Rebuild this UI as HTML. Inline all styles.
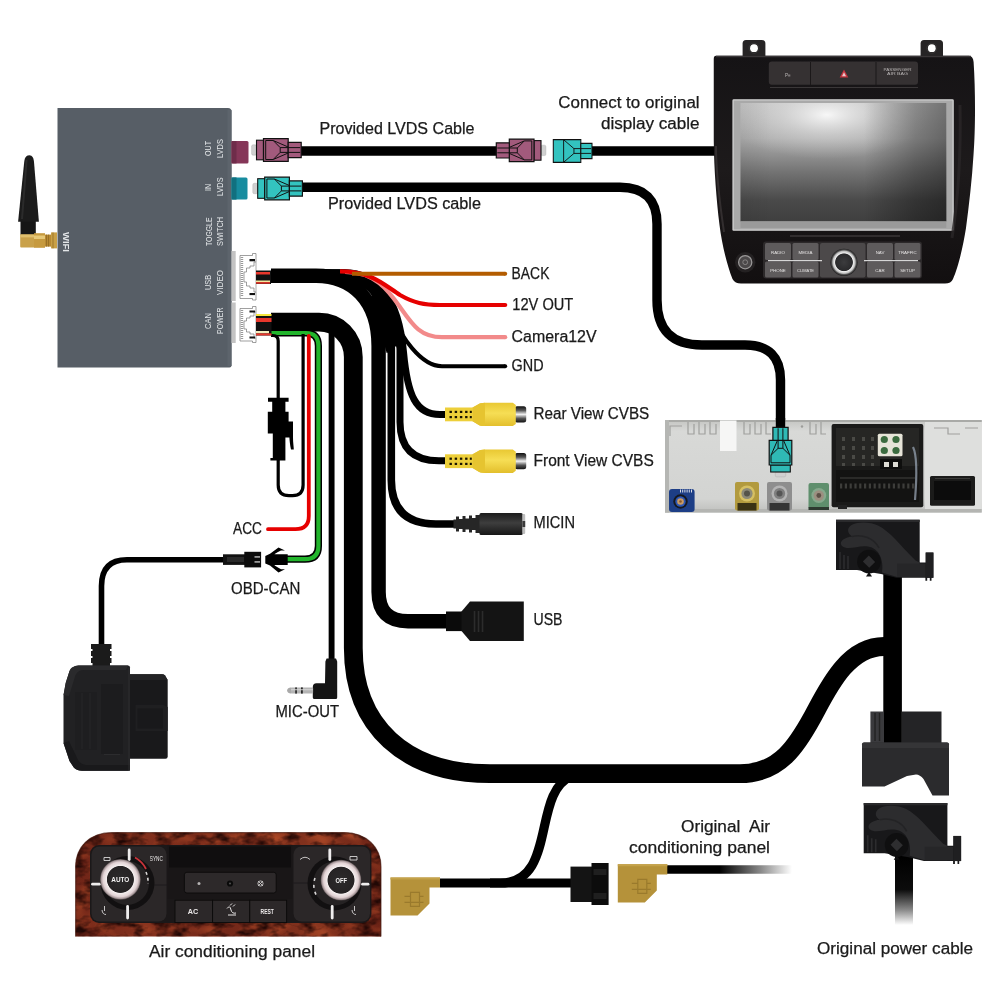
<!DOCTYPE html>
<html>
<head>
<meta charset="utf-8">
<title>Wiring diagram</title>
<style>
html,body{margin:0;padding:0;background:#fff;}
body{width:1000px;height:1000px;overflow:hidden;font-family:"Liberation Sans",sans-serif;}
svg{display:block;opacity:0.999;}
text{font-family:"Liberation Sans",sans-serif;}
.lbl{font-size:15.8px;fill:#1a1a1a;stroke:#1a1a1a;stroke-width:0.25px;}
.box{font-size:9px;fill:#e3e6e8;}
</style>
</head>
<body>
<svg width="1000" height="1000" viewBox="0 0 1000 1000">
<defs>
<linearGradient id="fadeR" gradientUnits="userSpaceOnUse" x1="667" y1="0" x2="792" y2="0"><stop offset="0" stop-color="#000"/><stop offset="0.42" stop-color="#000"/><stop offset="0.75" stop-color="#8a8a8a"/><stop offset="1" stop-color="#fff"/></linearGradient>
<linearGradient id="fadeD" gradientUnits="userSpaceOnUse" x1="0" y1="857" x2="0" y2="925"><stop offset="0" stop-color="#000"/><stop offset="0.48" stop-color="#0c0c0c"/><stop offset="0.78" stop-color="#8a8a8a"/><stop offset="1" stop-color="#fff"/></linearGradient>
</defs>
<rect width="1000" height="1000" fill="#fff"/>

<!-- ================= CABLES ================= -->
<g id="cables" fill="none" stroke="#000" stroke-linecap="butt" stroke-linejoin="round">
<!-- LVDS out cable -->
<path d="M301,151 H498" stroke-width="9.4"/>
<path d="M591,151 H716" stroke-width="9.4"/>
<!-- LVDS in cable -->
<path d="M301,187.3 H620 Q657,187.3 657,224 V300 Q657,345 702,345 H745 Q780.5,345 780.5,380 V430" stroke-width="9.4"/>

<!-- USB/VIDEO bundle -->
<path d="M271,275.8 H316 C352,275.8 378.6,300 378.6,346 V592 Q378.6,621.2 408,621.2 H447" stroke-width="14.4"/>
<path d="M300,273.5 H328 C368,273.5 391.3,300 391.3,348 V480 Q391.3,524 436,524 H456" stroke-width="7.6"/>
<path d="M300,272.8 H338 C378,272.8 400,302 400,350 V422 Q400,460.8 439,460.8 H447" stroke-width="7"/>
<path d="M300,272.8 H344 C382,272.8 399,304 403.5,352 C407.5,396 416,414.6 440,414.6 H447" stroke-width="7"/>
<!-- GND -->
<path d="M320,272 H348 C374,272 386,296 394,318 C400,334 420,366.2 442,366.2 H505.2" stroke-width="4"/>
<path d="M340,271 H352 C372,272 385,285 392,305 L399,336 L398.5,351 L396,346 L390,352 L386.6,353 L370,290 Z" fill="#000" stroke="none"/>
<!-- pink -->
<path d="M345,272 C375,272 388,290 400,307 C412,324 420,337.2 442,337.2 H505.2" stroke="#f28a8a" stroke-width="4.2"/>
<!-- red -->
<path d="M340,271.4 C372,271.4 384,285 400,295 C414,303 424,305 440,305 H505.2" stroke="#e60000" stroke-width="4.2"/>
<!-- brown -->
<path d="M352,273.7 H505.2" stroke="#b35c00" stroke-width="4"/>
<g stroke="none"><circle cx="505.2" cy="366.2" r="2" fill="#000"/><circle cx="505.2" cy="337.2" r="2.1" fill="#f28a8a"/><circle cx="505.2" cy="305" r="2.1" fill="#e60000"/><circle cx="505.2" cy="273.7" r="2" fill="#b35c00"/></g>

<!-- CAN/POWER harness -->
<path d="M271,322.1 H319 C338,322.1 353.3,337 353.3,357 V648 C353.3,726 405,773.7 490,773.7 H740 C780,773.7 797.5,744.3 812,718 C826.5,691.7 846,646.5 884,646.5 H893" stroke-width="18.8"/>
<!-- branch to AC -->
<path d="M572,776 C531,792 558,883 500,883 H490" stroke-width="9.2"/>
<path d="M440,883 H571" stroke-width="9"/>
<path d="M667,869.5 H792" stroke="url(#fadeR)" stroke-width="8.5"/>
<!-- power vertical -->
<path d="M892.6,570 V746" stroke-width="18.6"/>
<path d="M904,852 V925" stroke="url(#fadeD)" stroke-width="18"/>

<!-- MIC-OUT thin -->
<path d="M331.6,331 V662" stroke-width="5.9"/>
<!-- green (black outline) -->
<path d="M271,333 H306 Q318.4,333 318.4,346 V546 Q318.4,559.2 305,559.2 H287" stroke-width="7.2"/>
<path d="M271,333 H306 Q318.4,333 318.4,346 V546 Q318.4,559.2 305,559.2 H287" stroke="#22b52c" stroke-width="4.2"/>
<!-- red ACC -->
<path d="M308.8,336 V516 Q308.8,529.2 295.5,529.2 H268" stroke="#e60000" stroke-width="3.8" stroke-linecap="round"/>
<!-- fuse wire -->
<path d="M271,335.5 H273 Q278.2,335.5 278.2,341 V485 Q278.2,495.6 289,495.6 H292.5 Q303.1,495.6 303.1,485 V334" stroke-width="3.2"/>
<!-- OBD cable -->
<path d="M224,559.7 H127 Q101.5,559.7 101.5,586 V646" stroke-width="5.6"/>
</g>

<!-- ================= GRAY BOX ================= -->
<g id="box">
<path d="M57.5,108 H228 Q231.5,108 231.5,111.5 V365.6 Q231.5,367.6 229.5,367.6 H57.5 Z" fill="#575e66"/>
<rect x="227.5" y="110" width="4" height="256" fill="#5d646c"/>
<!-- antenna -->
<path d="M20.5,221 H35.8 V235 H20.5 Z" fill="#161616"/>
<path d="M29.2,155.2 C32.6,155.2 33.6,158.5 34,162 L38.9,221.8 H18.1 L24.2,162 C24.6,158.5 25.8,155.2 29.2,155.2 Z" fill="#1b1b1b"/>
<path d="M26.5,160 C26,170 23.5,200 22,219" stroke="#2b2b2b" stroke-width="2" fill="none"/>
<rect x="20.2" y="234.4" width="14.5" height="13.2" rx="1" fill="#c9a14a"/>
<rect x="20.2" y="234.4" width="14.5" height="3" fill="#e0bf6d"/>
<rect x="34" y="233.2" width="11" height="14.6" fill="#c69a3f"/>
<rect x="34" y="235.5" width="11" height="3.5" fill="#e6c878"/>
<rect x="45" y="234.6" width="6" height="12" fill="#b88a33"/>
<rect x="51" y="232.4" width="6" height="16" fill="#c9a046"/>
<path d="M46.5,234.6 V246.6 M48.5,234.6 V246.6 M53,232.4 V248.4" stroke="#8a6420" stroke-width="0.7"/>
<text class="box" transform="translate(63.3,232) rotate(90)" textLength="20" lengthAdjust="spacingAndGlyphs" style="font-size:9.4px;font-weight:bold">WIFI</text>
<g class="box">
<text transform="translate(211,156) rotate(-90)" textLength="15" lengthAdjust="spacingAndGlyphs">OUT</text>
<text transform="translate(223,158) rotate(-90)" textLength="19" lengthAdjust="spacingAndGlyphs">LVDS</text>
<text transform="translate(211,191) rotate(-90)" textLength="7" lengthAdjust="spacingAndGlyphs">IN</text>
<text transform="translate(223,196) rotate(-90)" textLength="18.5" lengthAdjust="spacingAndGlyphs">LVDS</text>
<text transform="translate(211.5,246) rotate(-90)" textLength="28.5" lengthAdjust="spacingAndGlyphs">TOGGLE</text>
<text transform="translate(223,246) rotate(-90)" textLength="29" lengthAdjust="spacingAndGlyphs">SWITCH</text>
<text transform="translate(211,290) rotate(-90)" textLength="15" lengthAdjust="spacingAndGlyphs">USB</text>
<text transform="translate(223,295) rotate(-90)" textLength="25" lengthAdjust="spacingAndGlyphs">VIDEO</text>
<text transform="translate(211,329) rotate(-90)" textLength="16" lengthAdjust="spacingAndGlyphs">CAN</text>
<text transform="translate(223,334) rotate(-90)" textLength="26.5" lengthAdjust="spacingAndGlyphs">POWER</text>
</g>
</g>

<!-- ================= TEXT LABELS ================= -->
<g class="lbl">
<text x="319.5" y="133.8" textLength="155" lengthAdjust="spacingAndGlyphs">Provided LVDS Cable</text>
<text x="328" y="208.8" textLength="153" lengthAdjust="spacingAndGlyphs">Provided LVDS cable</text>
<text x="558.3" y="107.8" textLength="141.3" lengthAdjust="spacingAndGlyphs">Connect to original</text>
<text x="600.9" y="128.5" textLength="98.7" lengthAdjust="spacingAndGlyphs">display cable</text>
<text x="511.6" y="278.8" textLength="37.8" lengthAdjust="spacingAndGlyphs">BACK</text>
<text x="512.3" y="309.9" textLength="61" lengthAdjust="spacingAndGlyphs">12V OUT</text>
<text x="511.6" y="342.3" textLength="85" lengthAdjust="spacingAndGlyphs">Camera12V</text>
<text x="511.6" y="371.1" textLength="32" lengthAdjust="spacingAndGlyphs">GND</text>
<text x="533.5" y="419.3" textLength="115.8" lengthAdjust="spacingAndGlyphs">Rear View CVBS</text>
<text x="533.5" y="465.7" textLength="120.3" lengthAdjust="spacingAndGlyphs">Front View CVBS</text>
<text x="533.5" y="527.8" textLength="41.5" lengthAdjust="spacingAndGlyphs">MICIN</text>
<text x="533.5" y="625.2" textLength="29" lengthAdjust="spacingAndGlyphs">USB</text>
<text x="233" y="533.6" textLength="29" lengthAdjust="spacingAndGlyphs">ACC</text>
<text x="231" y="593.6" textLength="69.3" lengthAdjust="spacingAndGlyphs">OBD-CAN</text>
<text x="275.5" y="717" textLength="63.5" lengthAdjust="spacingAndGlyphs">MIC-OUT</text>
<text x="681" y="832.4" textLength="89" lengthAdjust="spacingAndGlyphs" xml:space="preserve">Original  Air</text>
<text x="629" y="853.4" textLength="141" lengthAdjust="spacingAndGlyphs">conditioning panel</text>
<text x="817" y="953.6" textLength="156" lengthAdjust="spacingAndGlyphs">Original power cable</text>
<text x="149" y="957" textLength="166" lengthAdjust="spacingAndGlyphs">Air conditioning panel</text>
</g>


<!-- ================= LVDS connectors ================= -->
<defs>
<g id="lvdsplugNT">
  <path d="M0,-11.3 H32 V11.3 H0 Z" stroke="#111" stroke-width="1.2"/>
  <path d="M32,-7.6 H45 V7.6 H32 Z" stroke="#111" stroke-width="1.2"/>
  <path d="M12,-11.3 L24,-2.4 H44 M12,11.3 L24,2.4 H44 M12,-11.3 V11.3 M24,-2.4 V2.4" fill="none" stroke="#111" stroke-width="1"/>
</g>
<g id="lvdsplug">
  <!-- drawn pointing left, tip at x=0, centre y=0; total length ~50 -->
  <rect x="-4.6" y="-5.2" width="5" height="10.4" rx="1.5" fill="#d0d0d0" stroke="#aaa" stroke-width="0.4"/>
  <rect x="0.3" y="-9.8" width="7" height="19.6" stroke="#111" stroke-width="1.1"/>
  <path d="M7.3,-11.3 H32 V11.3 H7.3 Z" stroke="#111" stroke-width="1.2"/>
  <path d="M32,-7.6 H45 V7.6 H32 Z" stroke="#111" stroke-width="1.2"/>
  <path d="M9.5,-9.5 H17 L24,-2.4 H44 M9.5,9.5 H17 L24,2.4 H44 M9.5,-9.5 V9.5 M17,-9.5 L32,-3 M17,9.5 L32,3 M24,-2.4 V2.4" fill="none" stroke="#111" stroke-width="1"/>
</g>
</defs>
<!-- ports on box -->
<rect x="231.5" y="141" width="17" height="22.4" rx="1.5" fill="#853658"/>
<rect x="231.5" y="141" width="5" height="22.4" fill="#6f2c4a"/>
<rect x="231.5" y="177.4" width="16" height="22.2" rx="1.5" fill="#178c9f"/>
<rect x="231.5" y="177.4" width="5" height="22.2" fill="#11707f"/>
<use href="#lvdsplug" x="256.2" y="150" fill="#a25a7c"/>
<use href="#lvdsplug" x="257.4" y="188.5" fill="#33c3bf"/>
<!-- middle pair: purple pointing right (mirrored), teal pointing left -->
<use href="#lvdsplug" transform="translate(541.3,150.4) scale(-1,1)" fill="#a25a7c"/>
<g transform="translate(553.3,151) scale(0.86,1)"><use href="#lvdsplugNT" fill="#33c3bf"/></g>

<!-- ================= White JST connectors ================= -->
<rect x="231.5" y="251" width="4.2" height="50" fill="#c3c3c3"/>
<rect x="231.5" y="302.5" width="4.2" height="40.5" fill="#c3c3c3"/>
<g stroke="#777" stroke-width="0.7" fill="#fff">
<path d="M240,255.5 H252.5 V253.5 H256 V262 H254 V266 H250 V268 H246.5 V272 H244 V282 H246.5 V286 H250 V288 H254 V292 H256 V300 H252.5 V298.5 H240 Z"/>
<path d="M240,308.5 H252.5 V306.5 H256 V312 H254 V316 H250 V318 H246.5 V321 H244 V329 H246.5 V332 H250 V334 H254 V338 H256 V342.5 H252.5 V341 H240 Z"/>
</g>
<path d="M256,262 V292 M256,312 V338" stroke="#888" stroke-width="0.7" fill="none"/>
<g stroke="#333" stroke-width="2.4" stroke-dasharray="0.6 1.4" fill="none">
<path d="M242,257 V297"/><path d="M242,310 V340"/>
</g>
<g fill="#111">
<rect x="249.5" y="259" width="5.5" height="2.3"/><rect x="249.5" y="293" width="5.5" height="2.1"/>
<rect x="249.5" y="310.5" width="5.5" height="2"/><rect x="249.5" y="336.5" width="5.5" height="2"/>
</g>
<!-- wires out of JST 1 -->
<rect x="256" y="270.5" width="15" height="13.5" fill="#111"/>
<rect x="256" y="272" width="14" height="2.5" fill="#e8372c"/>
<rect x="256" y="280.5" width="14" height="1.6" fill="#f3e9a0"/>
<rect x="256" y="282.1" width="14" height="1.6" fill="#e8372c"/>
<!-- wires out of JST 2 -->
<rect x="256" y="314" width="15.5" height="21.5" fill="#111"/>
<rect x="256" y="314" width="15.5" height="2" fill="#f5e63c"/>
<rect x="256" y="318" width="15.5" height="4" fill="#e8372c"/>
<rect x="256" y="331" width="13" height="2.4" fill="#f3efc0"/>
<rect x="256" y="333.4" width="15.5" height="2" fill="#e8372c"/>

<!-- ================= Fuse holder ================= -->
<path d="M268,397.8 H288.6 V401.8 H285.4 V411.8 H288.6 V421.4 H293 V437.6 C293,443 293.8,447 293.8,449.6 H291 C290,445 289.6,441 289.4,437.6 H285.4 V460.6 H270.4 V458 H272.8 V433.4 H267.8 V411.8 H272.2 V401.8 H268 Z" fill="#000"/>

<!-- ================= RCA plugs ================= -->
<defs>
<linearGradient id="rcaY" x1="0" y1="0" x2="0" y2="1"><stop offset="0" stop-color="#e9c832"/><stop offset="0.45" stop-color="#f6de55"/><stop offset="1" stop-color="#e3bf2c"/></linearGradient>
<linearGradient id="rcaM" x1="0" y1="0" x2="0" y2="1"><stop offset="0" stop-color="#111"/><stop offset="0.25" stop-color="#555"/><stop offset="0.5" stop-color="#f2f2f2"/><stop offset="0.75" stop-color="#555"/><stop offset="1" stop-color="#111"/></linearGradient>
<g id="rca">
  <rect x="69.6" y="-8.1" width="11.6" height="16.2" rx="2.5" fill="url(#rcaM)"/>
  <rect x="0" y="-6.9" width="28" height="13.8" fill="#edcf3a"/>
  <g fill="#1a1400"><rect x="4.5" y="-3.6" width="2.4" height="2.2"/><rect x="9.7" y="-3.6" width="2.4" height="2.2"/><rect x="14.9" y="-3.6" width="2.4" height="2.2"/><rect x="20.1" y="-3.6" width="2.4" height="2.2"/><rect x="24.8" y="-3.6" width="2" height="2.2"/>
  <rect x="4.5" y="1.6" width="2.4" height="2.2"/><rect x="9.7" y="1.6" width="2.4" height="2.2"/><rect x="14.9" y="1.6" width="2.4" height="2.2"/><rect x="20.1" y="1.6" width="2.4" height="2.2"/><rect x="24.8" y="1.6" width="2" height="2.2"/></g>
  <path d="M27.6,-6.9 L33,-10 Q35,-11.7 40,-11.7 H67.8 L70.8,-9.5 V9.5 L67.8,11.7 H40 Q35,11.7 33,10 L27.6,6.9 Z" fill="url(#rcaY)"/>
  <path d="M27.6,-6.9 L33,-10 Q35,-11.7 40,-11.7 V11.7 Q35,11.7 33,10 L27.6,6.9 Z" fill="#e6c430"/>
</g>
</defs>
<use href="#rca" x="445" y="414.4"/>
<use href="#rca" x="445" y="461.2"/>

<!-- ================= MICIN jack ================= -->
<defs><linearGradient id="micG" x1="0" y1="0" x2="0" y2="1"><stop offset="0" stop-color="#1c1c1c"/><stop offset="0.45" stop-color="#3e3e3e"/><stop offset="1" stop-color="#171717"/></linearGradient></defs>
<path d="M453.5,519.5 H456 V516.5 H459 V519 H462.5 V516 H465.5 V518.5 H469 V515.5 H472 V518 H475.5 V515 H480 V533 H475.5 V530 H472 V532.5 H469 V529.5 H465.5 V532 H462.5 V529 H459 V531.5 H456 V528.5 H453.5 Z" fill="#262626"/>
<rect x="479.5" y="513" width="43.2" height="22" rx="1.5" fill="url(#micG)"/>
<rect x="522.4" y="514" width="2.8" height="20" rx="1" fill="#bdbdbd"/>
<rect x="522.4" y="521" width="2.8" height="6" fill="#3a3a3a"/>

<!-- ================= USB socket ================= -->
<rect x="446" y="611.5" width="17" height="19.6" fill="#0b0b0b"/>
<path d="M461.5,611.5 L470,601.4 H523.8 V641 H470 L461.5,631 Z" fill="#141414"/>
<path d="M474.5,611 V632 M478.5,611 V632 M482.5,611 V632" stroke="#2c2c2c" stroke-width="1.6" fill="none"/>

<!-- ================= OBD-CAN connectors ================= -->
<rect x="223" y="554.3" width="22" height="10.6" fill="#121212"/>
<rect x="227" y="557" width="17" height="5" fill="#2a2a2a"/>
<rect x="244.3" y="551.8" width="16.8" height="15.6" fill="#0d0d0d"/>
<rect x="254.5" y="556" width="5.5" height="1.8" fill="#999"/><rect x="254.5" y="561" width="5.5" height="1.8" fill="#999"/>
<path d="M265.3,556 L270,553.7 L278.5,547.6 L285,550.5 L281,550.5 Q274,554 274.5,554.3 H287.7 V565 H274.5 Q274,565.5 281,569.2 L285,569.2 L278.5,572.4 L270,565.6 L265.3,563.5 Z" fill="#000"/>

<!-- ================= MIC-OUT right-angle jack ================= -->
<path d="M326.6,658.5 H336 L337.2,661.500 V697.500 Q337.2,699 335.700,699 H314.500 Q312.8,699 312.8,697.500 V687 Q312.8,683.2 316.500,683.2 H325 L325.400,661.500 Z" fill="#151515"/>
<rect x="290.5" y="687.4" width="22.6" height="6.2" rx="1" fill="#b4b4b4"/>
<path d="M287,690.5 Q287.500,687.600 291,687.500 V693.500 Q287.500,693.400 287,690.500 Z" fill="#a9a9a9"/>
<rect x="295.2" y="687.4" width="1.7" height="6.2" fill="#2a2a2a"/><rect x="301" y="687.4" width="1.8" height="6.2" fill="#2a2a2a"/>
<rect x="291" y="689" width="22" height="1.3" fill="#d8d8d8" opacity="0.7"/>


<!-- ================= OBD plug ================= -->
<g>
<path d="M91,644 H111.5 V649 H110 V651 H111.5 V656 H110 V658 H111.5 V663 H110 V666 H92.5 V663 H91 V658 H92.5 V656 H91 V651 H92.5 V649 H91 Z" fill="#1b1b1b"/>
<path d="M130,674.3 H162 Q164,674.300 165,675.500 L167.7,680 V756.500 Q167.7,758.7 165.500,758.7 H130 Z" fill="#19191b"/>
<path d="M130,674.3 H162 Q164,674.300 165,675.500 L167.7,680 H130 Z" fill="#232325"/>
<path d="M135.5,704.7 H163 L167.7,707 V731 H135.500 Z" fill="#1f1f21"/>
<path d="M137.5,708.500 H163 V728.500 H137.500 Z" fill="#19191b"/>
<path d="M78.5,665.5 H128 Q130,665.500 130,667.500 V768.700 Q130,770.700 128,770.700 H82 Q77,770.700 74,767.700 L69.500,761 L63.500,743 V695 L65.700,683 L69.500,671 Q71.500,666 78.500,665.500 Z" fill="#212123"/>
<path d="M63.5,695 L65.700,683 L69.500,671 Q71.500,666 78.500,665.500 H128 L126,670 H84 Q78,670 75.500,675 L69,696 Z" fill="#2a2a2c"/>
<path d="M63.5,743 L69.500,761 L74,767.700 Q77,770.700 82,770.700 H130 V765 H86 Q80,764 78,760 L69,741 Z" fill="#19191b"/>
<rect x="101" y="684" width="22" height="70" fill="#1c1c1e"/>
<path d="M104,754.500 H120" stroke="#2c2c2e" stroke-width="1"/>
<rect x="75" y="692" width="22" height="58" fill="#1e1e20"/>
<path d="M82,693 V749 M90,693 V749" stroke="#262628" stroke-width="1.2" fill="none"/>
<path d="M129,668 V770" stroke="#2e2e31" stroke-width="1" fill="none"/>
</g>

<!-- ================= Display head unit ================= -->
<defs>
<linearGradient id="scr" x1="0" y1="0" x2="0" y2="1"><stop offset="0" stop-color="#c6c6c6"/><stop offset="0.3" stop-color="#adadad"/><stop offset="0.58" stop-color="#747474"/><stop offset="0.82" stop-color="#4a4a4a"/><stop offset="1" stop-color="#3f3f3f"/></linearGradient>
<linearGradient id="scrR" x1="0" y1="0" x2="1" y2="0"><stop offset="0" stop-color="#000" stop-opacity="0.06"/><stop offset="0.15" stop-color="#000" stop-opacity="0"/><stop offset="0.6" stop-color="#000" stop-opacity="0"/><stop offset="0.85" stop-color="#000" stop-opacity="0.3"/><stop offset="1" stop-color="#000" stop-opacity="0.42"/></linearGradient>
<radialGradient id="scrGlow" cx="0.42" cy="0.1" r="0.5" gradientTransform="translate(0.42,0.1) scale(1,0.75) translate(-0.42,-0.1)"><stop offset="0" stop-color="#fafafa" stop-opacity="0.95"/><stop offset="0.45" stop-color="#e0e0e0" stop-opacity="0.5"/><stop offset="1" stop-color="#c8c8c8" stop-opacity="0"/></radialGradient>
<linearGradient id="bodyG" x1="0" y1="0" x2="0" y2="1"><stop offset="0" stop-color="#151315"/><stop offset="0.5" stop-color="#1d1a1b"/><stop offset="1" stop-color="#120f10"/></linearGradient>
<radialGradient id="knobG" cx="0.5" cy="0.5" r="0.5"><stop offset="0" stop-color="#3c3c3e"/><stop offset="0.62" stop-color="#2a2a2c"/><stop offset="0.68" stop-color="#f0f0f0"/><stop offset="0.82" stop-color="#bdbdbd"/><stop offset="0.9" stop-color="#555"/><stop offset="1" stop-color="#1e1c1d"/></radialGradient>
</defs>
<g id="display">
<!-- mounting tabs -->
<path d="M742.6,56 V43.5 Q742.6,40 746,40 H762 Q765.4,40 765.4,43.500 V56 Z" fill="#262425"/>
<circle cx="754" cy="48.2" r="3.9" fill="#fff"/><circle cx="754" cy="48.2" r="5" fill="none" stroke="#3a3839" stroke-width="0.8"/>
<path d="M920.6,56 V43.500 Q920.6,40 924,40 H939.6 Q943,40 943,43.500 V56 Z" fill="#262425"/>
<circle cx="931.8" cy="48.2" r="3.9" fill="#fff"/><circle cx="931.8" cy="48.2" r="5" fill="none" stroke="#3a3839" stroke-width="0.8"/>
<!-- body -->
<path d="M716,55.8 H969 Q973,56 973.6,62 C975.5,90 975.5,130 973.5,155 C972,180 969,205 966,228 C963,247 958,268 953,279 Q951,283.5 945,283.500 H741 Q735,283.500 732.500,279 C727,265 722,245 719.500,225 C716.500,200 714,170 713.75,140 V59 Q713.75,55.8 716,55.8 Z" fill="url(#bodyG)"/>
<path d="M716,56.5 H971" stroke="#3a3638" stroke-width="1.5"/>
<!-- top button strip -->
<rect x="768.8" y="61.4" width="149.2" height="23.4" rx="3" fill="#353132"/>
<path d="M810.5,62 V85 M876,62 V85" stroke="#1b1819" stroke-width="1"/>
<path d="M844,69.5 L848.3,77.5 H839.7 Z" fill="#c6353f"/>
<path d="M844,72.2 L846,76.2 H842 Z" fill="#e9c9cc"/>
<text x="785" y="77" font-size="4.6" fill="#b9b5b5">P&#8801;</text>
<text x="883.5" y="70.5" font-size="3.6" fill="#b9b5b5" textLength="28" lengthAdjust="spacingAndGlyphs">PASSENGER</text>
<text x="887" y="74.6" font-size="3.6" fill="#b9b5b5" textLength="21" lengthAdjust="spacingAndGlyphs">AIR BAG</text>
<path d="M770,87.5 H918" stroke="#4a4647" stroke-width="1.2" opacity="0.7"/>
<!-- screen -->
<rect x="732.4" y="99.3" width="221.4" height="131.4" rx="1.5" fill="#a9a9a9"/>
<rect x="733.2" y="100" width="219.8" height="130" fill="none" stroke="#d4d4d4" stroke-width="0.9"/>
<rect x="740.5" y="103" width="205.8" height="118.4" fill="url(#scr)"/>
<rect x="740.5" y="103" width="205.8" height="118.4" fill="url(#scrGlow)"/>
<rect x="740.5" y="103" width="205.8" height="118.4" fill="url(#scrR)"/>
<rect x="740.5" y="221.4" width="205.8" height="6.5" fill="#9a9a9a"/>
<!-- reflections -->
<path d="M716,146 C716,175 720,205 724,232" stroke="#3a3536" stroke-width="2" fill="none" opacity="0.8"/>
<path d="M960,105 C961,150 958,200 952,238" stroke="#2b2728" stroke-width="3" fill="none" opacity="0.8"/>
<path d="M790,236 H900" stroke="#383435" stroke-width="2" opacity="0.8"/>
<!-- lower buttons -->
<rect x="763" y="241.5" width="159" height="37" rx="3" fill="#2c292a"/>
<g fill="#5e5b5c">
<rect x="765" y="243" width="26" height="17" rx="1.5"/><rect x="792.5" y="243" width="26" height="17" rx="1.5"/>
<rect x="765" y="261.5" width="26" height="16" rx="1.5"/><rect x="792.5" y="261.5" width="26" height="16" rx="1.5"/>
<rect x="867" y="243" width="26" height="17" rx="1.5"/><rect x="894.5" y="243" width="26" height="17" rx="1.5"/>
<rect x="867" y="261.5" width="26" height="16" rx="1.5"/><rect x="894.5" y="261.5" width="26" height="16" rx="1.5"/>
<rect x="820" y="243" width="45.5" height="34.5" rx="2" fill="#4c494a"/>
</g>
<path d="M768,260.6 H822 M864,260.6 H918" stroke="#d6d6d6" stroke-width="1.1"/>
<g font-size="4.4" fill="#e4e2e2" text-anchor="middle">
<text x="778" y="253.5">RADIO</text><text x="805.5" y="253.5">MEDIA</text><text x="778" y="271.5">PHONE</text><text x="805.5" y="271.5" textLength="17" lengthAdjust="spacingAndGlyphs">CLIMATE</text>
<text x="880" y="253.5">NAV</text><text x="907.5" y="253.5">TRAFFIC</text><text x="880" y="271.5">CAR</text><text x="907.5" y="271.5">SETUP</text>
</g>
<circle cx="844" cy="262.3" r="13.6" fill="url(#knobG)"/>
<circle cx="745.2" cy="262.2" r="10.2" fill="#242122"/>
<circle cx="745.2" cy="262.2" r="6.6" fill="#4b4849" stroke="#9a9898" stroke-width="1.3"/>
<circle cx="745.2" cy="262.2" r="2.4" fill="none" stroke="#9c9a9a" stroke-width="0.7"/>
</g>


<!-- ================= Radio module (rear) ================= -->
<defs>
<linearGradient id="modG" x1="0" y1="0" x2="0" y2="1"><stop offset="0" stop-color="#c4c5c2"/><stop offset="0.12" stop-color="#d8d9d7"/><stop offset="0.85" stop-color="#d3d4d2"/><stop offset="1" stop-color="#bfc0bd"/></linearGradient>
</defs>
<g id="module">
<rect x="665" y="420" width="316.7" height="92.5" fill="url(#modG)"/>
<rect x="665" y="420" width="316.7" height="2" fill="#a9aaa7"/>
<rect x="665" y="420" width="4" height="92.5" fill="#b5b6b3"/>
<rect x="925" y="422" width="56.7" height="90" fill="#dedfdd"/>
<rect x="665" y="509" width="316.7" height="3.5" fill="#b4b5b2"/>
<g fill="none" stroke="#9fa09d" stroke-width="1.2">
<path d="M688,422 V434 H694 V424 M699,422 V434 H705 V424 M710,422 V434 H716 V424"/>
<path d="M744,422 V434 H750 V424 M755,422 V434 H761 V424 M766,422 V434 H771"/>
<path d="M810,422 V434 H816 V424 M821,422 V434 H826"/>
<path d="M934,428 H948 V434 H960 M965,428 H978"/>
<path d="M670,436 V426 H682"/>
</g>
<rect x="720" y="420.5" width="16.5" height="30.5" fill="#f6f6f5"/>
<circle cx="802" cy="426.5" r="1.2" fill="#9c9d9a"/>
<!-- big black connector -->
<rect x="831.6" y="423.9" width="91.7" height="83.4" rx="2" fill="#1a1a19"/>
<rect x="836" y="428" width="83" height="38" fill="#262624"/>
<rect x="836" y="470" width="83" height="32" fill="#131312"/>
<g fill="#4a4a46">
<rect x="842" y="437" width="3" height="4"/><rect x="852" y="437" width="3" height="4"/><rect x="862" y="437" width="3" height="4"/><rect x="871" y="437" width="3" height="4"/>
<rect x="842" y="446" width="3" height="4"/><rect x="852" y="446" width="3" height="4"/><rect x="862" y="446" width="3" height="4"/><rect x="871" y="446" width="3" height="4"/>
<rect x="842" y="455" width="3" height="4"/><rect x="852" y="455" width="3" height="4"/><rect x="862" y="455" width="3" height="4"/><rect x="871" y="455" width="3" height="4"/>
<rect x="842" y="463" width="3" height="3"/><rect x="852" y="463" width="3" height="3"/><rect x="862" y="463" width="3" height="3"/><rect x="871" y="463" width="3" height="3"/>
</g>
<path d="M840,486 H915" stroke="#3d3d3a" stroke-width="5" stroke-dasharray="2.2 2.6"/>
<path d="M840,478 H915" stroke="#2a2a28" stroke-width="2"/>
<rect x="877.8" y="433.8" width="24.7" height="22.4" rx="1.5" fill="#e6e4d8"/>
<g fill="#3b6b3f"><circle cx="884.3" cy="439.5" r="3.6"/><circle cx="896" cy="439.5" r="3.6"/><circle cx="884.3" cy="450.5" r="3.6"/><circle cx="896" cy="450.5" r="3.6"/></g>
<rect x="880" y="459" width="22" height="10" fill="#0e0e0d"/>
<rect x="884" y="462" width="5" height="5" fill="#deddd5"/><rect x="893" y="462" width="5" height="5" fill="#deddd5"/>
<path d="M913,447 C917,455 917,475 915,500" stroke="#8f9aa8" stroke-width="2.2" fill="none" opacity="0.8"/>
<rect x="838" y="505" width="9" height="4" fill="#222"/>
<!-- right small connector -->
<rect x="930" y="476" width="45" height="29.7" rx="1.5" fill="#1b1b1a"/>
<rect x="934" y="481" width="37" height="19" fill="#0c0c0c"/>
<path d="M935,478.5 H970" stroke="#3a3a38" stroke-width="1"/>
<!-- fakra connectors -->
<rect x="669" y="489" width="25.6" height="23" rx="3" fill="#1d3e86"/>
<path d="M680,491 H693" stroke="#d9dde6" stroke-width="3" stroke-dasharray="1 1.2"/>
<circle cx="680.5" cy="501.5" r="7.2" fill="#15181f"/><circle cx="680.5" cy="501.5" r="5.2" fill="#2c56b4"/><circle cx="680.5" cy="501.5" r="3.3" fill="#c99a62"/><circle cx="680.5" cy="501.5" r="1.3" fill="#8a5a2a"/>
<rect x="735" y="482" width="24" height="28.6" rx="2" fill="#b29a3e"/>
<rect x="737.5" y="503" width="19" height="7.6" fill="#3a3214"/>
<circle cx="747" cy="493.5" r="8" fill="#d6c063"/><circle cx="747" cy="493.5" r="5.6" fill="#8c8a78"/><circle cx="747" cy="493.5" r="3" fill="#55544a"/>
<rect x="767" y="482" width="25" height="28.6" rx="2" fill="#8e8e8e"/>
<rect x="769.5" y="503" width="20" height="7.6" fill="#343434"/>
<circle cx="779.5" cy="493.5" r="8" fill="#b4b4b4"/><circle cx="779.5" cy="493.5" r="5.6" fill="#7f7f7f"/><circle cx="779.5" cy="493.5" r="3" fill="#555"/>
<rect x="808.5" y="483" width="20.5" height="26" rx="2" fill="#5f8f6d"/>
<rect x="808.5" y="507" width="20.5" height="3" fill="#2d3a30"/>
<circle cx="818.8" cy="495.5" r="7.4" fill="#86a88c"/><circle cx="818.8" cy="495.5" r="5.2" fill="#9c8f80"/><circle cx="818.8" cy="495.5" r="2.4" fill="#5c5046"/>
<rect x="775.8" y="418" width="9.4" height="10" fill="#000"/>
<!-- teal plug vertical -->
<g transform="translate(780.5,472.3) rotate(-90)"><use href="#lvdsplug" fill="#2fb9b5"/></g>
</g>

<!-- ================= Power connectors ================= -->
<defs>
<g id="latch">
<path d="M836,519.7 H919.7 V562.4 H925.7 V552.6 H933.4 V577.8 H931.5 V580.8 H929.8 V577.8 H927.2 V580.8 H925.4 V577.8 H896.3 L881,574 L857,570 H836 Z" fill="#18181a"/>
<path d="M836,519.7 H919.7 V522 H836 Z" fill="#2a2a2c"/>
<path d="M850.8,525.6 C856,521.5 870,521.5 878,525.5 C890,531.5 899,544 915.5,560.5 L919.7,562.4 V577 H897 L882,572.5 C884,560 879,548 868,546.5 C858,545 848,551 842,546 C838,541 846,537 852,536.5 C847,533 847,528.5 850.8,525.6 Z" fill="#2c2c2e"/>
<path d="M852,536.5 C862,534 874,538 879,548" stroke="#232325" stroke-width="1.6" fill="none"/>
<path d="M897,563.5 H925.7 V577 H897 Z" fill="#262628"/>
<path d="M925.7,552.6 H933.4 V577.8 H925.7 Z" fill="#1f1f21"/>
<path d="M840,552 V569 M844,555 V569 M848,556 V569" stroke="#2c2c2e" stroke-width="1.6"/>
<circle cx="869" cy="561.7" r="11.9" fill="#0f0f10"/>
<path d="M869,572 l3,4.4 h-6 z" fill="#0f0f10"/>
<rect x="864.5" y="557.5" width="9" height="8.4" fill="#2e2e30" transform="rotate(45 869 561.7)"/>
</g>
</defs>
<g id="power">
<!-- top latch connector -->
<use href="#latch" x="0" y="0"/>
<!-- middle block -->
<path d="M870.4,711.5 H884 V743 H870.4 Z" fill="#3a3a3d"/>
<path d="M875,713 V741 M879.5,713 V741" stroke="#222" stroke-width="1.4"/>
<path d="M902,711.5 H941.5 V744 H902 Z" fill="#242426"/>
<path d="M862,744.5 Q862,742.5 864,742.5 H947 Q949,742.5 949,744.5 V795.5 H932.5 L923.5,779 Q920,774.5 916,774.5 L907,776 L884.5,786.5 H862 Z" fill="#2b2b2d"/>
<path d="M862,744.5 Q862,742.5 864,742.5 H947 Q949,742.5 949,744.5 V748 H862 Z" fill="#353537"/>
<!-- lower latch connector -->
<use href="#latch" x="27.7" y="283.3"/>
</g>

<!-- ================= Gold connectors & coupler ================= -->
<defs>
<g id="gold">
<path d="M0,0 H49.5 V10.2 H39 V26.1 L27,38.1 H0 Z" fill="#b5923a"/>
<path d="M0,0 H49.5 V2 H0 Z" fill="#c4a24a"/>
<path d="M14,19 H20 V15 H29 V19 H33 M14,25 H33 M20,19 V29 H29 V19" stroke="#9a7a2c" stroke-width="1.2" fill="none"/>
</g>
</defs>
<use href="#gold" x="390.5" y="877.4"/>
<use href="#gold" x="617.8" y="864.3"/>
<rect x="570.5" y="866.6" width="21.5" height="35.4" fill="#141414"/>
<rect x="591.5" y="863" width="17.1" height="42" fill="#0c0c0c"/>
<rect x="593.5" y="869" width="13" height="6" fill="#1f1f1f"/><rect x="593.5" y="893" width="13" height="6" fill="#1f1f1f"/>

<!-- ================= AC panel ================= -->
<defs>
<linearGradient id="woodG" x1="0" y1="0" x2="1" y2="0"><stop offset="0" stop-color="#6e2417"/><stop offset="0.2" stop-color="#82301d"/><stop offset="0.5" stop-color="#742819"/><stop offset="0.8" stop-color="#84331e"/><stop offset="1" stop-color="#6c2316"/></linearGradient>
<radialGradient id="acKnob" cx="0.5" cy="0.5" r="0.5"><stop offset="0" stop-color="#2c2a2b"/><stop offset="0.64" stop-color="#262324"/><stop offset="0.68" stop-color="#f4eeee"/><stop offset="0.85" stop-color="#e2d2d4"/><stop offset="0.94" stop-color="#a8999b"/><stop offset="1" stop-color="#4a4142"/></radialGradient>
<filter id="woodN" x="0" y="0" width="1" height="1" color-interpolation-filters="sRGB"><feTurbulence type="fractalNoise" baseFrequency="0.07 0.11" numOctaves="3" seed="11" result="n"/><feColorMatrix in="n" type="matrix" values="0 0 0 0 0.13  0 0 0 0 0.03  0 0 0 0 0.02  2.4 0 0 0 -0.95"/><feComposite operator="in" in2="SourceGraphic"/></filter>
<filter id="woodL" x="0" y="0" width="1" height="1" color-interpolation-filters="sRGB"><feTurbulence type="fractalNoise" baseFrequency="0.045 0.07" numOctaves="2" seed="3" result="n"/><feColorMatrix in="n" type="matrix" values="0 0 0 0 0.70  0 0 0 0 0.3  0 0 0 0 0.16  0 2.0 0 0 -0.85"/><feComposite operator="in" in2="SourceGraphic"/></filter>
</defs>
<g id="acpanel">
<path d="M75.6,936.5 V867 C75.6,847 90,832.6 112,832.6 H344 C366,832.6 381,847 381,867 V936.5 Z" fill="url(#woodG)"/>
<path d="M75.6,936.5 V867 C75.6,847 90,832.6 112,832.6 H344 C366,832.6 381,847 381,867 V936.5 Z" fill="#000" filter="url(#woodL)"/>
<path d="M75.6,936.5 V867 C75.6,847 90,832.6 112,832.6 H344 C366,832.6 381,847 381,867 V936.5 Z" fill="#000" filter="url(#woodN)"/>
<path d="M75.6,936.5 V867 C75.6,847 90,832.6 112,832.6 H344 C366,832.6 381,847 381,867 V936.5" fill="none" stroke="#3e140c" stroke-width="1.2" opacity="0.6"/>
<rect x="90" y="845" width="281.4" height="78" rx="9" fill="#1b1819"/>
<rect x="91.5" y="846.5" width="75" height="75" rx="8" fill="#2b2728"/>
<rect x="293.5" y="846.5" width="76.5" height="75" rx="8" fill="#2b2728"/>
<path d="M91.5,885 H167 M293.500,883 H370" stroke="#1b1819" stroke-width="0.8"/>
<rect x="167.6" y="845" width="124.6" height="54" fill="#191617"/>
<rect x="169" y="846.5" width="122" height="21" fill="#100e0f"/>
<rect x="184.4" y="872.3" width="91.8" height="20.7" rx="2.5" fill="#2d292a" stroke="#0b0a0a" stroke-width="0.9"/>
<circle cx="230" cy="883.5" r="3.1" fill="#0a0a0a"/><circle cx="230" cy="883.5" r="1.1" fill="#4c4c4c"/>
<circle cx="199" cy="883.5" r="1.5" fill="#b5b3b3"/>
<g stroke="#c9c7c7" stroke-width="0.9" fill="none"><circle cx="260.5" cy="883.5" r="2.6"/><path d="M258,881 l5,5 M263,881 l-5,5"/></g>
<g fill="#2c2829" stroke="#0b0a0a" stroke-width="0.9">
<rect x="175" y="900.2" width="37.6" height="22.4"/><rect x="212.600" y="900.2" width="37.2" height="22.4"/><rect x="249.800" y="900.2" width="36.8" height="22.4"/>
</g>
<g fill="#ece9e9" text-anchor="middle" font-weight="bold">
<text x="193" y="914" font-size="7.2">AC</text><text x="267.2" y="914" font-size="7" textLength="13.3" lengthAdjust="spacingAndGlyphs">REST</text>
<text x="156.3" y="861" font-size="7.2" font-weight="normal" textLength="13" lengthAdjust="spacingAndGlyphs">SYNC</text>
</g>
<path d="M227,908.500 q3,-4 4,1.500 q1,4 5,3 M228,915 h8 M230,905.500 l2,-2 m1,3 l2,-2" stroke="#e8e6e6" stroke-width="1" fill="none"/>
<!-- knob bezels -->
<circle cx="127.5" cy="883" r="27" fill="#121011"/>
<circle cx="127" cy="883" r="22" fill="#252223"/>
<circle cx="334.5" cy="883.4" r="27" fill="#121011"/>
<circle cx="335" cy="883.4" r="22" fill="#252223"/>
<!-- tick marks -->
<g stroke="#efeded" stroke-width="2.8" stroke-linecap="round">
<path d="M129.2,850 V859.500"/><path d="M127.6,906.500 V918"/><path d="M92.500,884.2 H99.500"/>
<path d="M329.8,850 V859.500"/><path d="M332.2,906.500 V918"/><path d="M362.500,884.2 H368"/>
</g>
<path d="M135,857.500 A26,26 0 0 1 146,869" stroke="#c8343a" stroke-width="1.8" fill="none"/>
<path d="M146,872 A26,26 0 0 1 148,884" stroke="#d9d7d7" stroke-width="1.6" fill="none" stroke-dasharray="3 3"/>
<path d="M315,878 A22,22 0 0 0 318,898" stroke="#d9d7d7" stroke-width="1.6" fill="none" stroke-dasharray="3 4"/>
<circle cx="120.4" cy="879.4" r="20.4" fill="url(#acKnob)"/>
<circle cx="341" cy="880.2" r="20.4" fill="url(#acKnob)"/>
<g fill="#f4f2f2" text-anchor="middle" font-weight="bold" font-size="8">
<text x="120.3" y="882.4" textLength="18" lengthAdjust="spacingAndGlyphs">AUTO</text><text x="341.2" y="883" textLength="11.5" lengthAdjust="spacingAndGlyphs">OFF</text>
</g>
<g stroke="#d8d6d6" stroke-width="0.9" fill="none">
<path d="M102,910 q0.500,4.500 4,4.500 M104.500,906 v5"/><path d="M352,910 q0.500,4.500 4,4.500 M354.500,906 v5"/>
<path d="M300,859.500 q5,-4.500 10,0"/><path d="M350,856.500 h7 v3.500 h-7 z"/>
<path d="M104,857.500 h6 v3 h-6 z"/>
</g>
</g>
</g>


</svg>
</body>
</html>
